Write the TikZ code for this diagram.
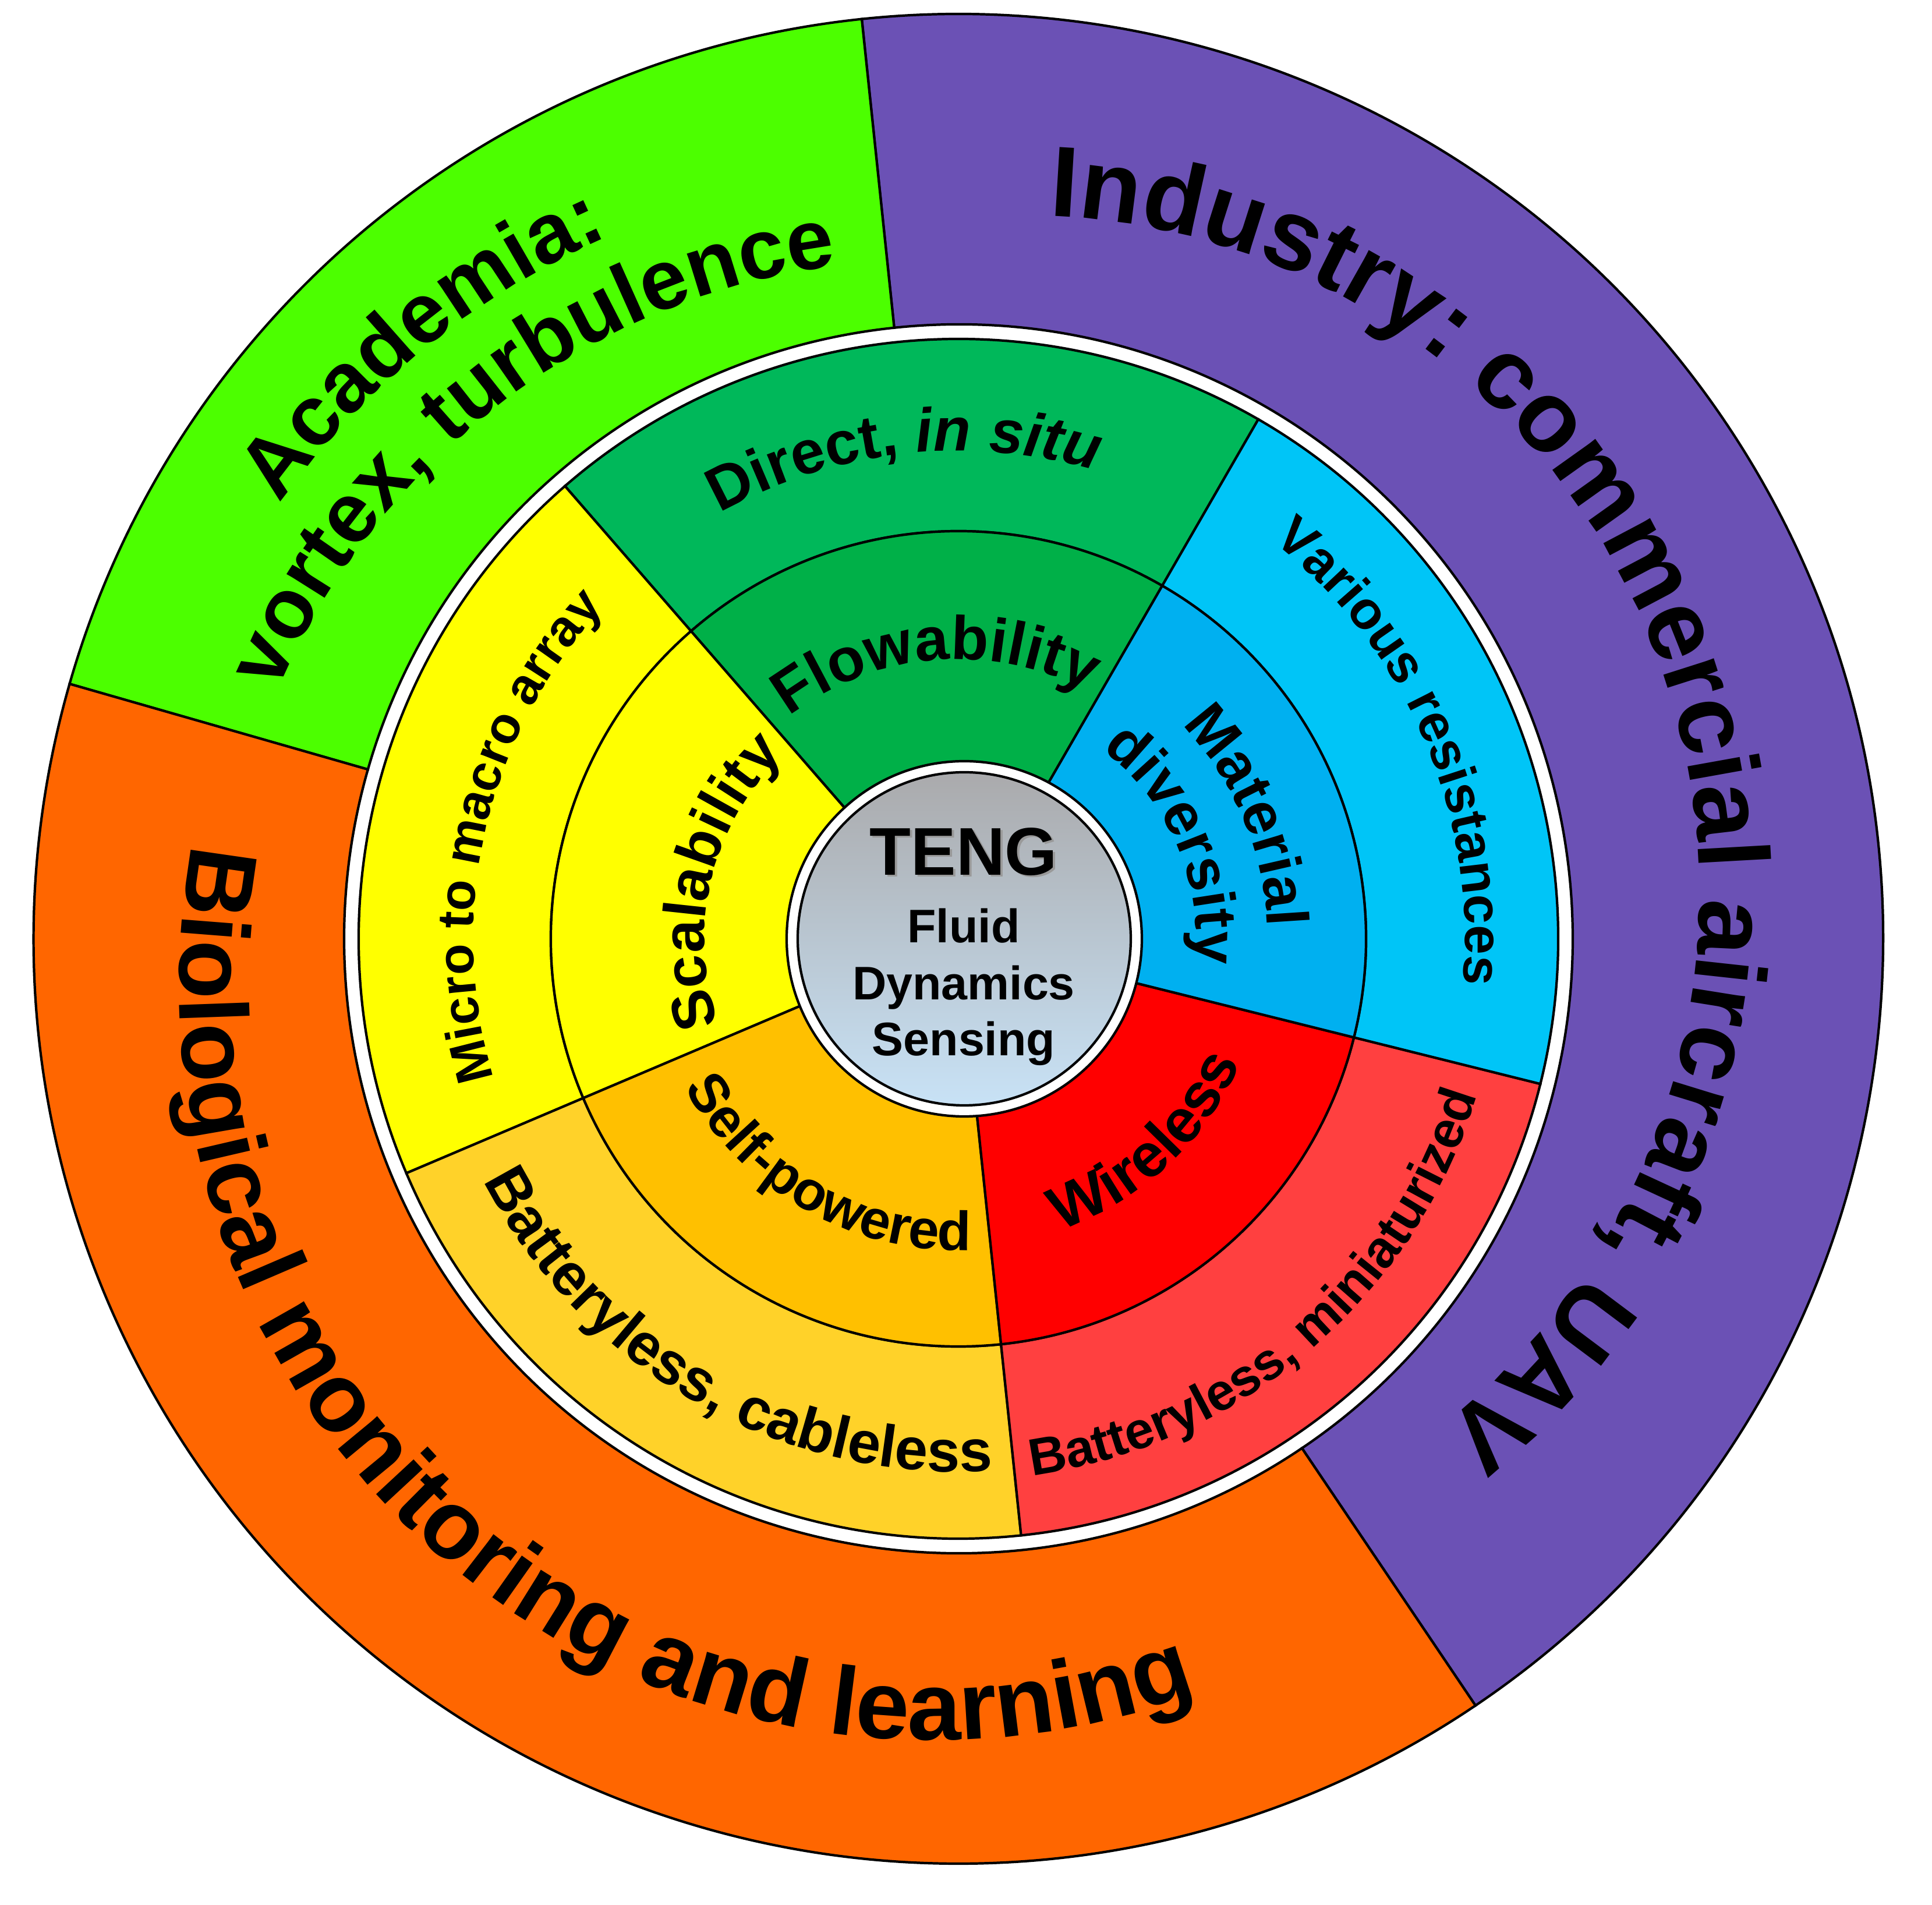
\documentclass[tikz,border=0pt]{standalone}
\usepackage{fontspec}
\setmainfont{Liberation Sans}
\usetikzlibrary{decorations.text}

\definecolor{indpurple}{RGB}{107,81,181}
\definecolor{acagreen}{RGB}{76,255,0}
\definecolor{bioorange}{RGB}{255,102,0}
\definecolor{dirgreen}{RGB}{0,184,90}
\definecolor{flowgreen}{RGB}{0,176,72}
\definecolor{varcyan}{RGB}{0,197,247}
\definecolor{matblue}{RGB}{0,176,240}
\definecolor{batred}{RGB}{255,64,64}
\definecolor{wirered}{RGB}{255,0,0}
\definecolor{batgold}{RGB}{255,210,41}
\definecolor{selforange}{RGB}{255,192,0}
\definecolor{micyellow}{RGB}{255,255,0}
\definecolor{tengtop}{RGB}{170,170,172}
\definecolor{tengbot}{RGB}{200,226,246}

\newcommand{\fs}[1]{\fontsize{#1}{#1}\selectfont\bfseries}
% ring piece: start angle, end angle, inner radius, outer radius, colour
\newcommand{\ringpart}[5]{\filldraw[fill=#5] (#1:#4) arc[start angle=#1,end angle=#2,radius=#4] -- (#2:#3) arc[start angle=#2,end angle=#1,radius=#3] -- cycle;}
% text on an arc: centre, middle angle, radius, half span, text
\newcommand{\cwtext}[5]{\path[decorate,decoration={text along path,text align=center,text={#5}}] ([shift={#1}]#2+#4:#3) arc[start angle=#2+#4,end angle=#2-#4,radius=#3];}
\newcommand{\ccwtext}[5]{\path[decorate,decoration={text along path,text align=center,text={#5}}] ([shift={#1}]#2-#4:#3) arc[start angle=#2-#4,end angle=#2+#4,radius=#3];}

\begin{document}
\begin{tikzpicture}[line width=1.2pt]
\useasboundingbox (-16.46,-16.59) rectangle (16.72,16.12);

% outer ring
\foreach \a/\b/\col in {-56/96/indpurple,96/164/acagreen,164/304/bioorange}
  {\ringpart{\a}{\b}{10.55}{15.88}{\col}}
% middle ring
\foreach \a/\b/\col in {60/131/dirgreen,131/203/micyellow,203/276/batgold,276/346/batred,346/420/varcyan}
  {\ringpart{\a}{\b}{7.0}{10.30}{\col}}
% inner ring
\foreach \a/\b/\col in {60/131/flowgreen,131/203/micyellow,203/276/selforange,276/346/wirered,346/420/matblue}
  {\ringpart{\a}{\b}{2.9}{7.0}{\col}}

% centre disc
\filldraw[fill=white] (0.1,0) circle (3.05);
\shade[top color=tengtop,bottom color=tengbot] (0.1,0) circle (2.86);
\draw (0.1,0) circle (2.86);
\node[anchor=base,text=black!40] (tengshadow) at (0.13,1.06) {\fs{33}TENG};
\node[anchor=base] (teng) at (0.09,1.09) {\fs{33}TENG};
\node[anchor=base] (fluid) at (0.09,-0.07) {\fs{23}Fluid};
\node[anchor=base] (dynamics) at (0.09,-1.05) {\fs{23}Dynamics};
\node[anchor=base] (sensing) at (0.09,-2.01) {\fs{23}Sensing};

% outer labels
\cwtext{(1.08,0.77)}{18}{11.65}{80}{|\fs{49}|Industry: commercial aircraft, UAV}
\cwtext{(-0.53,-0.45)}{129.1}{13.66}{30}{|\fs{41.5}|Academia:}
\cwtext{(-0.53,-0.45)}{127.3}{12.11}{45}{|\fs{41.5}|vortex, turbulence}
\ccwtext{(-0.42,-0.80)}{229.8}{12.96}{75}{|\fs{47.3}|Biological monitoring and learning}

% middle labels
\cwtext{(0,0)}{96.5}{8.38}{35}{|\fs{30}|Direct, |\fs{30}\itshape|in situ}
\cwtext{(0,0)}{23.3}{8.7}{40}{|\fs{26}|Various resistances}
\ccwtext{(0,0)}{-49.5}{9.3}{45}{|\fs{25.5}|Batteryless, miniaturized}
\ccwtext{(0,0)}{240.3}{9.15}{45}{|\fs{29}|Batteryless, cableless}
\cwtext{(0,0)}{166.8}{8.33}{45}{|\fs{25}|Micro to macro array}

% inner labels
\cwtext{(0,0)}{94.8}{4.8}{45}{|\fs{30}|Flowability}
\cwtext{(0,0)}{23}{5.31}{35}{|\fs{29}|Material}
\cwtext{(0,0)}{23.5}{4.08}{40}{|\fs{29}|diversity}
\cwtext{(0,0)}{166.5}{4.36}{45}{|\fs{29}|Scalability}
\ccwtext{(0,0)}{-47.3}{5.3}{35}{|\fs{30}|Wireless}
\ccwtext{(0,0)}{240.4}{5.35}{45}{|\fs{27}|Self-powered}

\end{tikzpicture}
\end{document}
